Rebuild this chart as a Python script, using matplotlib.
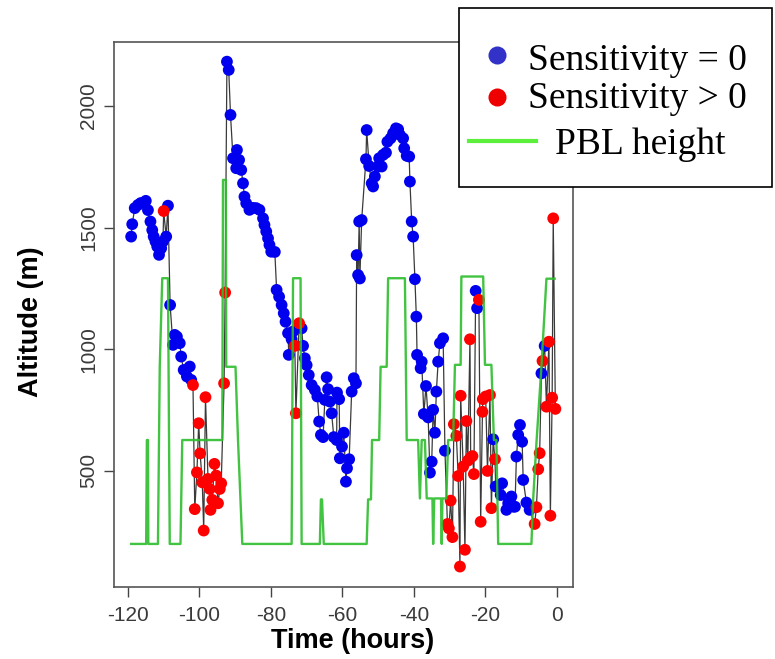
import matplotlib
matplotlib.use('Agg')
import matplotlib.pyplot as plt
from matplotlib.lines import Line2D
from matplotlib.patches import Rectangle
import numpy as np

# ---------------- data ----------------
time = [-119.1, -118.8, -118.1, -117.2, -116.4, -115.0, -114.4, -113.7, -113.2, -112.8,
        -112.3, -111.8, -111.3, -110.7, -110.2, -110.0, -109.3, -108.8, -108.2, -107.4,
        -106.9, -106.3, -105.5, -105.1, -104.4, -103.5, -102.7, -102.3, -101.8, -101.3,
        -100.7, -100.2, -99.8, -99.2, -98.8, -98.3, -97.6, -97.1, -96.9, -96.4,
        -95.8, -95.3, -94.8, -94.3, -93.9, -93.1, -92.8, -92.3, -91.8, -91.3,
        -90.6, -89.7, -89.5, -88.9, -88.3, -87.8, -87.4, -86.9, -86.0, -85.0,
        -84.1, -83.2, -82.2, -81.8, -81.3, -80.8, -80.4, -79.9, -78.9, -78.4,
        -77.7, -77.0, -76.4, -75.9, -75.2, -75.0, -74.2, -73.8, -73.3, -73.0,
        -72.1, -71.4, -71.0, -70.5, -70.0, -69.4, -68.6, -67.7, -67.0, -66.5,
        -66.0, -65.4, -64.9, -64.4, -64.0, -63.5, -63.0, -62.4, -61.6, -61.5,
        -60.9, -60.7, -60.1, -59.6, -59.0, -58.7, -58.1, -57.4, -56.8, -56.2,
        -56.0, -55.6, -55.3, -55.1, -54.6, -53.4, -53.2, -52.5, -51.8, -51.4,
        -50.9, -50.0, -49.7, -49.0, -48.6, -47.8, -47.4, -46.5, -45.8, -45.0,
        -44.4, -43.9, -43.0, -42.7, -42.0, -41.3, -41.1, -40.6, -40.2, -39.7,
        -39.3, -39.1, -38.1, -37.8, -37.2, -36.6, -36.0, -35.5, -35.0, -34.6,
        -34.1, -33.7, -33.2, -32.7, -31.8, -31.3, -30.6, -30.2, -29.7, -29.2,
        -28.8, -28.1, -27.6, -27.1, -26.9, -26.2, -25.7, -25.3, -24.9, -24.3,
        -24.1, -23.6, -23.2, -22.7, -22.3, -21.8, -21.3, -20.8, -20.7, -19.9,
        -19.4, -18.7, -18.3, -17.8, -17.3, -17.1, -15.7, -15.3, -14.1, -13.6,
        -12.7, -12.2, -11.7, -11.3, -10.8, -10.3, -9.7, -9.4, -8.5, -7.6,
        -6.2, -5.7, -5.2, -4.8, -4.3, -4.0, -3.4, -2.9, -2.2, -1.8,
        -1.3, -1.0, -0.4]

altitude = [1463, 1514, 1580, 1593, 1601, 1610, 1572, 1525, 1490, 1463,
            1443, 1422, 1388, 1415, 1443, 1568, 1463, 1590, 1182, 1018,
            1059, 1052, 1025, 970, 915, 888, 929, 874, 853, 343,
            494, 696, 572, 453, 255, 803, 467, 426, 340, 381,
            529, 481, 367, 426, 449, 860, 1233, 2182, 2148, 1963,
            1785, 1744, 1819, 1778, 1737, 1682, 1627, 1600, 1573, 1581,
            1580, 1573, 1538, 1511, 1484, 1456, 1429, 1401, 1400, 1244,
            1216, 1182, 1148, 1113, 1066, 977, 1041, 1073, 1014, 737,
            1107, 1086, 1014, 963, 935, 894, 853, 833, 806, 703,
            648, 639, 792, 885, 836, 785, 737, 639, 627, 822,
            795, 552, 600, 657, 456, 511, 548, 826, 881, 860,
            1387, 1305, 1525, 1291, 1531, 1781, 1901, 1753, 1682, 1669,
            1710, 1751, 1785, 1751, 1799, 1808, 1853, 1867, 1888, 1908,
            1904, 1881, 1867, 1826, 1795, 1792, 1689, 1525, 1463, 1288,
            1134, 977, 922, 949, 734, 849, 720, 493, 538, 751,
            657, 826, 949, 1025, 1045, 583, 282, 264, 378, 228,
            692, 644, 479, 107, 809, 518, 176, 705, 542, 1041,
            556, 561, 487, 1240, 1169, 1203, 291, 743, 795, 806,
            500, 812, 347, 630, 548, 436, 401, 449, 340, 367,
            395, 353, 353, 559, 648, 689, 620, 463, 370, 340,
            282, 351, 507, 573, 901, 952, 1014, 764, 1031, 316,
            801, 1538, 755]

# 0 -> Sensitivity = 0 (blue), 1 -> Sensitivity > 0 (red)
sensitivity = [0, 0, 0, 0, 0, 0, 0, 0, 0, 0,
               0, 0, 0, 0, 0, 1, 0, 0, 0, 0,
               0, 0, 0, 0, 0, 0, 0, 0, 1, 1,
               1, 1, 1, 1, 1, 1, 1, 1, 1, 1,
               1, 1, 1, 1, 1, 1, 1, 0, 0, 0,
               0, 0, 0, 0, 0, 0, 0, 0, 0, 0,
               0, 0, 0, 0, 0, 0, 0, 0, 0, 0,
               0, 0, 0, 0, 0, 0, 0, 0, 1, 1,
               1, 0, 0, 0, 0, 0, 0, 0, 0, 0,
               0, 0, 0, 0, 0, 0, 0, 0, 0, 0,
               0, 0, 0, 0, 0, 0, 0, 0, 0, 0,
               0, 0, 0, 0, 0, 0, 0, 0, 0, 0,
               0, 0, 0, 0, 0, 0, 0, 0, 0, 0,
               0, 0, 0, 0, 0, 0, 0, 0, 0, 0,
               0, 0, 0, 0, 0, 0, 0, 0, 0, 0,
               0, 0, 0, 0, 0, 0, 1, 1, 1, 1,
               1, 1, 1, 1, 1, 1, 1, 1, 1, 1,
               1, 1, 1, 0, 0, 1, 1, 1, 1, 1,
               1, 1, 1, 0, 1, 0, 0, 0, 0, 0,
               0, 0, 0, 0, 0, 0, 0, 0, 0, 0,
               1, 1, 1, 1, 0, 1, 0, 1, 1, 1,
               1, 1, 1]

pbl_time = [-119.1, -114.9, -114.7, -114.4, -114.3, -111.6, -111.1, -110.4, -108.8, -108.3,
            -105.3, -104.8, -93.6, -93.4, -92.6, -92.5, -89.9, -89.2, -88.0, -74.2,
            -73.8, -71.7, -71.4, -66.3, -66.0, -65.7, -65.2, -53.2, -52.8, -52.0,
            -51.7, -49.7, -49.3, -47.6, -47.2, -42.5, -42.0, -38.8, -38.3, -37.8,
            -36.9, -36.4, -34.8, -34.6, -34.3, -32.4, -32.2, -32.0, -30.9, -30.4,
            -29.0, -28.5, -26.9, -26.7, -20.6, -20.1, -18.3, -17.6, -16.9, -16.4,
            -7.1, -6.6, -5.7, -4.3, -2.9, -0.6]
pbl_height = [200, 200, 627, 627, 200, 200, 928, 1292, 1292, 200,
              200, 627, 627, 1696, 1696, 928, 928, 627, 200, 200,
              1292, 1292, 200, 200, 383, 383, 200, 200, 383, 383,
              627, 627, 928, 928, 1292, 1292, 627, 627, 387, 627,
              627, 387, 387, 200, 387, 387, 200, 387, 387, 627,
              627, 936, 936, 1299, 1299, 936, 936, 627, 627, 200,
              200, 387, 614, 928, 1290, 1290]

xticks = [-120, -100, -80, -60, -40, -20, 0]
yticks = [500, 1000, 1500, 2000]
legend_labels = ["Sensitivity = 0", "Sensitivity > 0", "PBL height"]
xlabel = "Time (hours)"
ylabel = "Altitude (m)"

# ---------------- figure ----------------
W, H = 775, 659
fig = plt.figure(figsize=(W / 100, H / 100), dpi=100)
fig.patch.set_facecolor('white')

L, R, T, B = 114, 572.7, 41.7, 587
ax = fig.add_axes([L / W, 1 - B / H, (R - L) / W, (B - T) / H])

t = np.array(time)
a = np.array(altitude)
s = np.array(sensitivity)

ax.plot(t, a, color='#3a3a3a', lw=0.9, zorder=2)
ax.scatter(t[s == 0], a[s == 0], s=72, color='#0000ee', edgecolors='none', zorder=3)
ax.scatter(t[s == 1], a[s == 1], s=72, color='#ff0000', edgecolors='none', zorder=3)
ax.plot(pbl_time, pbl_height, color='#2dbd2d', lw=1.7, zorder=4, alpha=0.9)

ax.set_xlim(-123.9, 4.45)
ax.set_ylim(23, 2264)
ax.set_xticks(xticks)
ax.set_xticklabels([str(v) for v in xticks])
ax.set_yticks(yticks)
ax.set_yticklabels([str(v) for v in yticks])

for sp in ax.spines.values():
    sp.set_color('#555555')
    sp.set_linewidth(1.2)

ax.tick_params(axis='both', direction='out', length=7.5, width=1.0, color='#444444',
               labelsize=15, labelcolor='#3a3a3a')
ax.tick_params(axis='x', pad=6)
ax.tick_params(axis='y', pad=4)
for lab in ax.get_xticklabels() + ax.get_yticklabels():
    lab.set_fontfamily('Liberation Sans')
for lab in ax.get_yticklabels():
    lab.set_rotation(90)
    lab.set_va('center')

fig.text(353 / W, 1 - 648 / H, xlabel, ha='center', va='baseline',
         fontsize=19.5, fontweight='bold', family='Liberation Sans', color='black')
fig.text(31 / W, 1 - 322 / H, ylabel, ha='center', va='center', rotation=90,
         fontsize=19.5, fontweight='bold', family='Liberation Sans', color='black')

# ---------------- legend (drawn as a boxed key) ----------------
lx0, ly0, lx1, ly1 = 459, 8, 772, 187
fig.add_artist(Rectangle((lx0 / W, 1 - ly1 / H), (lx1 - lx0) / W, (ly1 - ly0) / H,
                         transform=fig.transFigure, facecolor='white',
                         edgecolor='black', lw=1.2, zorder=10))
fig.add_artist(Line2D([496.7 / W], [1 - 55 / H], marker='o', ms=13, color='#3232c8',
                      markeredgewidth=0, transform=fig.transFigure, zorder=11))
fig.add_artist(Line2D([496.7 / W], [1 - 96.7 / H], marker='o', ms=13, color='#ee0000',
                      markeredgewidth=0, transform=fig.transFigure, zorder=11))
fig.add_artist(Line2D([469 / W, 536 / W], [1 - 141 / H, 1 - 141 / H], color='#5cf03c',
                      lw=3, transform=fig.transFigure, zorder=11))
fig.text(528 / W, 1 - 70 / H, legend_labels[0], ha='left', va='baseline', fontsize=27,
         family='Liberation Serif', zorder=12)
fig.text(528 / W, 1 - 108.3 / H, legend_labels[1], ha='left', va='baseline', fontsize=27,
         family='Liberation Serif', zorder=12)
fig.text(555 / W, 1 - 154 / H, legend_labels[2], ha='left', va='baseline', fontsize=27,
         family='Liberation Serif', zorder=12)

fig.savefig('out.png', dpi=100)
